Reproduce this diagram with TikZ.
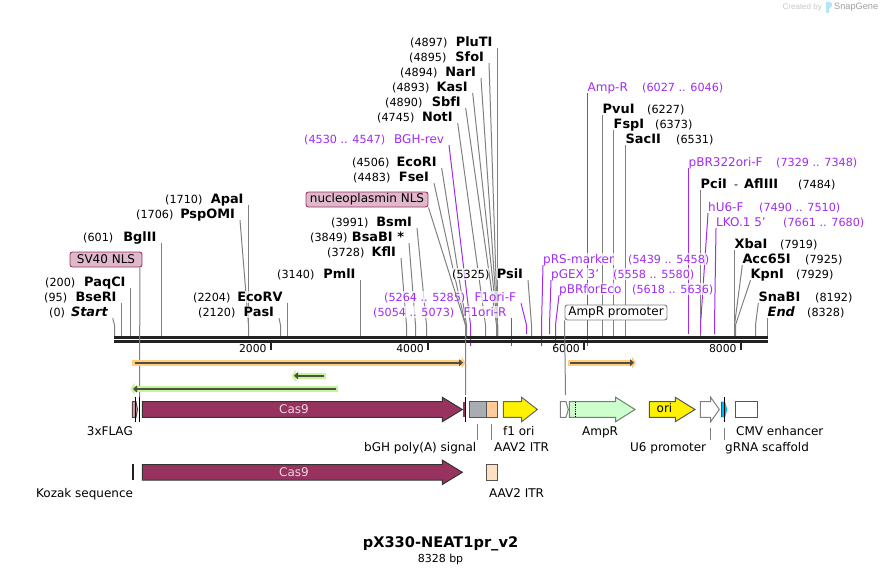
\documentclass[tikz,border=0pt]{standalone}
\usepackage{fontspec}
\setmainfont{DejaVu Sans}
\newfontfamily\badgefont{Liberation Sans}
\usepackage{tikz}
\usetikzlibrary{arrows.meta,positioning,backgrounds}
\definecolor{mapgrey}{HTML}{808080}
\definecolor{mapline}{HTML}{222222}
\definecolor{mapprimer}{HTML}{A02CF2}
\definecolor{mapcas}{HTML}{98335F}
\definecolor{mapnls}{HTML}{E0B8CC}
\definecolor{maporange}{HTML}{FFCC80}
\definecolor{mapgreen}{HTML}{C4F59A}
\definecolor{mapdark}{HTML}{4F5040}
\definecolor{mapcyan}{HTML}{00B9F2}

\begin{document}
\begin{tikzpicture}[
  x=1pt, y=-1pt,
  font=\fontsize{12}{14}\selectfont,
  sitelbl/.style={inner sep=0pt, text height=10.4pt, text depth=1.6pt,
                  fill=white, fill opacity=0.7, text opacity=1},
  sitepos/.style={sitelbl, font=\fontsize{11.2}{14}\selectfont},
  sitename/.style={sitelbl, font=\fontsize{12.9}{14}\selectfont\bfseries},
  primer/.style={sitelbl, text=mapprimer},
  primerpos/.style={sitepos, text=mapprimer},
  leader/.style={mapgrey, line width=1pt},
  pleader/.style={mapprimer, line width=1pt},
  nlsbox/.style={draw=mapcas, fill=mapnls, rounded corners=2.5pt, line width=0.9pt,
                 inner sep=0pt, minimum height=15pt},
  feat/.style={line width=1pt, line join=miter},
  featlbl/.style={inner sep=0pt, text height=10.4pt, text depth=1.6pt},
  tickmark/.style={mapline, line width=2pt},
  stub/.style={mapgrey, line width=1pt},
]
\useasboundingbox (0,0) rectangle (882,575);
\coordinate (bend) at (0,325);

% ---------------- backbone ------------------------------------------
\draw[mapline, line width=3pt] (114,337.5) -- (768,337.5);
\draw[mapline, line width=2.2pt] (114,341.4) -- (768,341.4);

\foreach \x/\t in {270.7/2000, 428/4000, 584/6000, 740.7/8000} {
  \draw[tickmark] (\x,343) -- (\x,350);
  \node[inner sep=0pt, anchor=east, font=\fontsize{10.8}{14}\selectfont] (tick\t) at (\x-4,349) {\t};
}

% ---------------- sites, label left of the leader --------------------
\foreach \id/\name/\pos/\lx/\ly/\px/\bx in {
    PluTI/PluTI/(4897)/497.5/42/410/497.5,
    SfoI/SfoI/(4895)/489/57/409/497.5,
    NarI/NarI/(4894)/481/72/400/497.5,
    KasI/KasI/(4893)/472.7/87/392/497.5,
    SbfI/SbfI/(4890)/465.7/102/385/496.5,
    NotI/NotI/(4745)/457.7/117/377/485.5,
    EcoRI/EcoRI/(4506)/441.7/162/352/466.5,
    FseI/FseI/(4483)/434/177/353/465.5,
    BsmI/BsmI/(3991)/417/222/331/426.5,
    BsaBI/BsaBI */(3849)/409/237/310/415.5,
    KflI/KflI/(3728)/401/252/327/406.5,
    PmlI/PmlI/(3140)/360.5/274/277/360.5,
    PsiI/PsiI/(5325)/528/274/452/531.5,
    ApaI/ApaI/(1710)/248.5/199/165/248.5,
    PspOMI/PspOMI/(1706)/240/214/136/248.5,
    BglII/BglII/(601)/161.5/237/83/161.5,
    PaqCI/PaqCI/(200)/130.5/282/45/130.5,
    BseRI/BseRI/(95)/121.5/297/44/121.5,
    Start/{\itshape Start}/(0)/112.7/312/49/114.5,
    EcoRV/EcoRV/(2204)/287.5/297/193/287.5,
    PasI/PasI/(2120)/279/312/198/280.5} {
  \node[sitename, anchor=east, outer xsep=5pt] (\id) at (\lx,\ly) {\name};
  \node[sitepos, anchor=west] (\id pos) at (\px,\ly) {\pos};
  \coordinate (s\id) at (\bx,336);
  \begin{pgfonlayer}{background}
    \draw[leader] (\id.south east) -- (s\id |- bend) -- (s\id);
  \end{pgfonlayer}
}

% ---------------- sites, label right of the leader -------------------
\foreach \id/\name/\pos/\lx/\ly/\px/\bx in {
    PvuI/PvuI/(6227)/602.5/109/647/602.5,
    FspI/FspI/(6373)/613.5/124/655/613.5,
    SacII/SacII/(6531)/625.5/139/676/625.5,
    XbaI/XbaI/(7919)/734.5/244/780/734.5,
    Acc/Acc65I/(7925)/742.3/259/805/734.5,
    KpnI/KpnI/(7929)/750.5/274/796/735.5,
    SnaBI/SnaBI/(8192)/758.3/297/815/755.5,
    End/{\itshape End}/(8328)/767.5/312/807/767.5} {
  \node[sitename, anchor=west] (\id) at (\lx,\ly) {\name};
  \node[sitepos, anchor=west] (\id pos) at (\px,\ly) {\pos};
  \coordinate (s\id) at (\bx,336);
  \begin{pgfonlayer}{background}
    \draw[leader] (\id.south west) -- (s\id |- bend) -- (s\id);
  \end{pgfonlayer}
}

% PciI shares its label with AflIII
\node[sitename, anchor=west] (PciI) at (700.5,184) {PciI};
\node[sitepos, anchor=west] (PciIdash) at (734,184) {-};
\node[sitename, anchor=west] (AflIII) at (744,184) {AflIII};
\node[sitepos, anchor=west] (PciIpos) at (798,184) {(7484)};
\coordinate (sPciI) at (700.5,336);
\begin{pgfonlayer}{background}
  \draw[leader] (PciI.south west) -- (sPciI);
\end{pgfonlayer}

% ---------------- primers --------------------------------------------
\foreach \id/\name/\pos/\lx/\ly/\px/\bx/\by in {
    BGHrev/BGH-rev/(4530 .. 4547)/449/139/304/470.5/346,
    F1oriR/F1ori-R/(5054 .. 5073)/511.5/312/373/511.5/346,
    F1oriF/F1ori-F/(5264 .. 5285)/521/297/384/526.5/334} {
  \node[primer, anchor=east, outer xsep=5pt] (\id) at (\lx,\ly) {\name};
  \node[primerpos, anchor=west] (\id pos) at (\px,\ly) {\pos};
  \coordinate (s\id) at (\bx,\by);
  \begin{pgfonlayer}{background}
    \draw[pleader] (\id.south east) -- (s\id |- bend) -- (s\id);
  \end{pgfonlayer}
}

\foreach \id/\name/\pos/\lx/\ly/\px/\bx/\by in {
    pRS/pRS-marker/(5439 .. 5458)/543/259/628/541.5/346,
    pGEX/pGEX 3'/(5558 .. 5580)/551/274/613/549.5/334,
    pBRfor/pBRforEco/(5618 .. 5636)/559/289/632/555.5/346,
    AmpRp/Amp-R/(6027 .. 6046)/587.5/87/642/587.5/346,
    pBRori/pBR322ori-F/(7329 .. 7348)/688.5/162/776/688.5/334,
    hUsix/hU6-F/(7490 .. 7510)/708/207/759/700.5/334,
    LKO/LKO.1 5'/(7661 .. 7680)/716/222/783/714.5/334} {
  \node[primer, anchor=west] (\id) at (\lx,\ly) {\name};
  \node[primerpos, anchor=west] (\id pos) at (\px,\ly) {\pos};
  \coordinate (s\id) at (\bx,\by);
  \begin{pgfonlayer}{background}
    \draw[pleader] (\id.south west) -- (s\id |- bend) -- (s\id);
  \end{pgfonlayer}
}

% ---------------- feature flags --------------------------------------
\node[nlsbox, minimum width=72pt] (sv40) at (106,259.5) {SV40 NLS};
\node[nlsbox, minimum width=122pt] (nucleo) at (367,199.5) {nucleoplasmin NLS};
\node[nlsbox, draw=mapgrey, fill=white, minimum width=102pt] (ampprom) at (616,312.5) {AmpR promoter};

\coordinate (sv40end) at (139.5,397);
\coordinate (nucleoend) at (465.5,395);
\coordinate (ampend) at (565.5,395);
\draw[stub] ([xshift=-2.5pt]sv40.south east) -- (sv40end);
\draw[stub] (nucleo.south east) -- (nucleoend |- bend) -- (nucleoend);
\draw[stub] (ampprom.south west) -- (ampend);

% ---------------- translated frames ----------------------------------
\foreach \a/\b/\y/\c in {132.3/465.5/362.7/maporange, 568/636/362.7/maporange,
                         326/291.5/375.7/mapgreen, 338/130.5/389/mapgreen} {
  \draw[\c, line width=6pt, -{Triangle[length=4pt,width=12pt]}] (\a,\y) -- (\b,\y);
}
\foreach \a/\b/\y in {134.5/463/362.7, 570/634/362.7, 324/294/375.7, 336/133/389} {
  \draw[mapdark, line width=2.2pt, -{Triangle[length=4pt,width=7pt]}] (\a,\y) -- (\b,\y);
}

% ---------------- features, first row --------------------------------
\foreach \a/\h/\t/\y/\c/\e in {
    142.3/442.3/462.3/409.5/mapcas/333333,
    503.3/521.7/537.3/409.5/yellow/666666,
    569.3/615.7/635/409.5/{rgb,255:red,204;green,255;blue,204}/668866,
    649.3/675.3/695/409.5/yellow/555555,
    700.3/710.7/719.3/409.5/white/808080,
    142.3/442.3/462.3/472.3/mapcas/333333} {
  \definecolor{edgec}{HTML}{\e}
  \draw[feat, draw=edgec, fill=\c] (\a,\y-7.8) -- (\h,\y-7.8) -- (\h,\y-12.2) -- (\t,\y)
    -- (\h,\y+12.2) -- (\h,\y+7.8) -- (\a,\y+7.8) -- cycle;
}
\draw[black, line width=0.8pt, densely dotted] (575.7,401.7) -- (575.7,417.3);

\foreach \a/\b/\y/\c/\e in {
    469.3/486/409.5/{rgb,255:red,168;green,173;blue,180}/555555,
    486/497/409.5/{rgb,255:red,255;green,204;blue,153}/555555,
    735.3/757.7/409.5/white/555555,
    486.3/497.7/472.3/{rgb,255:red,255;green,224;blue,192}/555555} {
  \definecolor{edgec}{HTML}{\e}
  \draw[feat, draw=edgec, fill=\c] (\a,\y-7.8) rectangle (\b,\y+7.8);
}

% small pieces that sit against the black cuts
\draw[feat, draw=mapdark, fill=mapnls!75!mapcas] (132.3,401.7) -- (136,401.7) -- (137.5,409.5)
  -- (136,417.3) -- (132.3,417.3) -- cycle;
\fill[mapcas] (463.3,401.7) rectangle (465.7,417.3);
\draw[feat, draw=mapgrey, fill=white] (560.3,401.7) -- (566,401.7) -- (568.3,409.5)
  -- (566,417.3) -- (560.3,417.3) -- cycle;
\fill[mapcyan] (721.3,401.7) -- (725,401.7) -- (727.3,409.5) -- (725,417.3) -- (721.3,417.3) -- cycle;
\draw[line width=0.6pt, mapdark] (721.3,401.7) -- (721.3,417.3);
\foreach \x in {135.5, 139.5, 465.5, 724.5}
  \draw[black, line width=0.8pt] (\x,397) -- (\x,421.7);
\fill[mapline] (132.3,464) rectangle (134,480);

\node[text=mapcas!20!white, inner sep=0pt] (cas9a) at (294,409) {Cas9};
\node[text=mapcas!20!white, inner sep=0pt] (cas9b) at (294,472) {Cas9};
\node[inner sep=0pt, text=black] (orilbl) at (664.5,408.5) {ori};

% ---------------- feature names --------------------------------------
\foreach \id/\name/\x/\y in {flag/3xFLAG/86.7/431, fone/f1 ori/503/431, ampr/AmpR/582/431,
    cmv/CMV enhancer/736/431, bgh/bGH poly(A) signal/364/447, itra/AAV2 ITR/494/447,
    usix/U6 promoter/630/447, grna/gRNA scaffold/725/447, kozak/Kozak sequence/36/493,
    itrb/AAV2 ITR/489/493}
  \node[featlbl, anchor=west] (\id) at (\x,\y) {\name};

\foreach \x/\t in {477.5/424, 491.5/424, 710.5/427.7, 724.5/427.7}
  \draw[mapgrey, line width=0.8pt] (\x,\t) -- (\x,440);

% ---------------- title and badge ------------------------------------
\node[inner sep=0pt, font=\fontsize{14.6}{16}\selectfont\bfseries] (title) at (440.5,544) {pX330-NEAT1pr\_v2};
\node[inner sep=0pt, font=\fontsize{11}{12}\selectfont] (size) at (440.5,559) {8328 bp};

\node[inner sep=0pt, anchor=east, text=black!22, font=\badgefont\fontsize{8}{9}\selectfont] (created) at (822,7.5) {Created by};
\node[inner sep=0pt, anchor=west, text=black!38, font=\badgefont\fontsize{9.2}{12}\selectfont] (snap) at (834,7.5) {SnapGene};
\fill[cyan!30!white] (826,2) -- (830,2) .. controls (833,2) and (833,8) .. (829,8.5) -- (829,13) -- (826,13) -- cycle;

\end{tikzpicture}
\end{document}
